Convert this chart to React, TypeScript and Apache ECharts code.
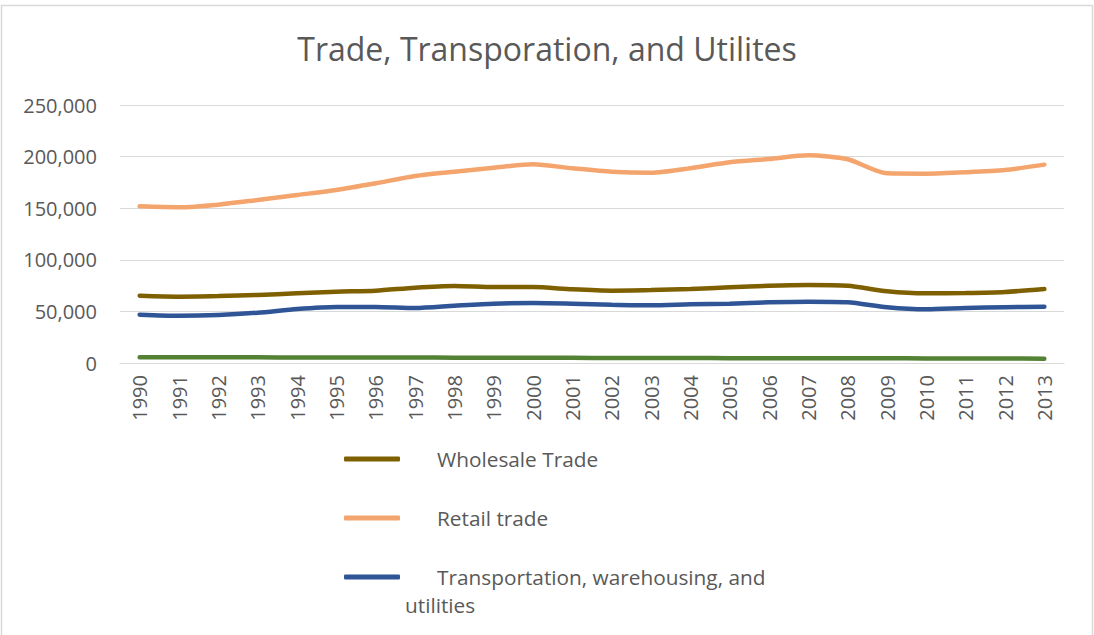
import React, { useEffect, useRef } from "react";
import * as echarts from "echarts";

const years = ["1990","1991","1992","1993","1994","1995","1996","1997","1998","1999","2000","2001","2002","2003","2004","2005","2006","2007","2008","2009","2010","2011","2012","2013"];
const wholesale = [65200,64300,64900,65900,67500,69100,70100,73000,74600,73600,73600,71400,70100,70700,71700,73300,74900,75600,74900,69500,67500,67800,68800,71700];
const retail = [151800,150900,153400,158000,162800,167600,174100,181200,185400,189200,192500,188700,185400,184400,188700,194500,197700,201300,197400,183800,183500,184800,187000,192200];
const transport = [46800,45800,46500,48700,52300,54300,54300,53300,55500,57500,58100,57500,56500,55900,56900,57500,58800,59400,58800,54000,52000,53300,54000,54600];
const utilities = [5600,5600,5600,5500,5400,5300,5300,5300,5200,5100,5000,5000,4900,4900,4900,4700,4600,4600,4600,4600,4400,4300,4300,4200];
const yTicks = { min: 0, max: 250000, interval: 50000 };

const FONT = "Open Sans";
const GRAY = "#595959";

export default function App() {
  const ref = useRef<HTMLDivElement>(null);
  useEffect(() => {
    if (!ref.current) return;
    const chart = echarts.init(ref.current, undefined, { renderer: "svg" });
    const legendBase = {
      orient: "vertical",
      left: 344,
      padding: 0,
      itemWidth: 56,
      itemHeight: 5,
      icon: "roundRect",
      selectedMode: false,
    };
    const textBase = {
      fontFamily: FONT,
      fontSize: 20.8,
      color: GRAY,
      lineHeight: 28,
      rich: { s: { width: 32, fontFamily: FONT, fontSize: 20.8, lineHeight: 28 } },
    };
    chart.setOption({
      animation: false,
      backgroundColor: "#ffffff",
      title: {
        text: "Trade, Transporation, and Utilites",
        left: "center",
        top: 28,
        padding: 0,
        textStyle: { fontFamily: FONT, fontSize: 32, fontWeight: "normal", color: GRAY, lineHeight: 40 },
      },
      graphic: [
        {
          type: "rect",
          shape: { x: 1.5, y: 5.5, width: 1091, height: 650 },
          style: { fill: "none", stroke: "#d9d9d9", lineWidth: 1.5 },
          silent: true,
        },
      ],
      legend: [
        { ...legendBase, top: 445, data: ["Wholesale Trade"], formatter: (n: string) => "{s| }" + n, textStyle: textBase },
        { ...legendBase, top: 504, data: ["Retail trade"], formatter: (n: string) => "{s| }" + n, textStyle: textBase },
        {
          ...legendBase,
          top: 535,
          data: ["Transportation, warehousing, and utilities"],
          formatter: () => "{s| }Transportation, warehousing, and\nutilities",
          textStyle: { ...textBase, padding: [28, 0, 0, 0] },
        },
      ],
      grid: { left: 120, right: 30, top: 105, bottom: 272, containLabel: false },
      xAxis: {
        type: "category",
        data: years,
        boundaryGap: true,
        axisLine: { show: true, lineStyle: { color: "#d9d9d9", width: 1 } },
        axisTick: { show: false },
        axisLabel: { rotate: 90, margin: 12, fontFamily: FONT, fontSize: 20, color: GRAY, interval: 0 },
      },
      yAxis: {
        type: "value",
        min: yTicks.min,
        max: yTicks.max,
        interval: yTicks.interval,
        axisLine: { show: false },
        axisTick: { show: false },
        splitLine: { lineStyle: { color: "#d9d9d9", width: 1 } },
        axisLabel: {
          margin: 23,
          fontFamily: FONT,
          fontSize: 20,
          color: GRAY,
          formatter: (v: number) => v.toLocaleString("en-US"),
        },
      },
      series: [
        { name: "Wholesale Trade", type: "line", data: wholesale, smooth: 0.25, symbol: "none", color: "#7F6000", lineStyle: { width: 4.5, cap: "round", color: "#7F6000" } },
        { name: "Retail trade", type: "line", data: retail, smooth: 0.25, symbol: "none", color: "#F4A56E", lineStyle: { width: 4.5, cap: "round", color: "#F4A56E" } },
        { name: "Transportation, warehousing, and utilities", type: "line", data: transport, smooth: 0.25, symbol: "none", color: "#2F5597", lineStyle: { width: 4.5, cap: "round", color: "#2F5597" } },
        { name: "Utilities", type: "line", data: utilities, smooth: 0.25, symbol: "none", color: "#548235", lineStyle: { width: 4.5, cap: "round", color: "#548235" } },
      ],
    });
    return () => chart.dispose();
  }, []);
  return <div ref={ref} style={{ position: "fixed", left: 0, top: 0, width: 1094, height: 635 }} />;
}
